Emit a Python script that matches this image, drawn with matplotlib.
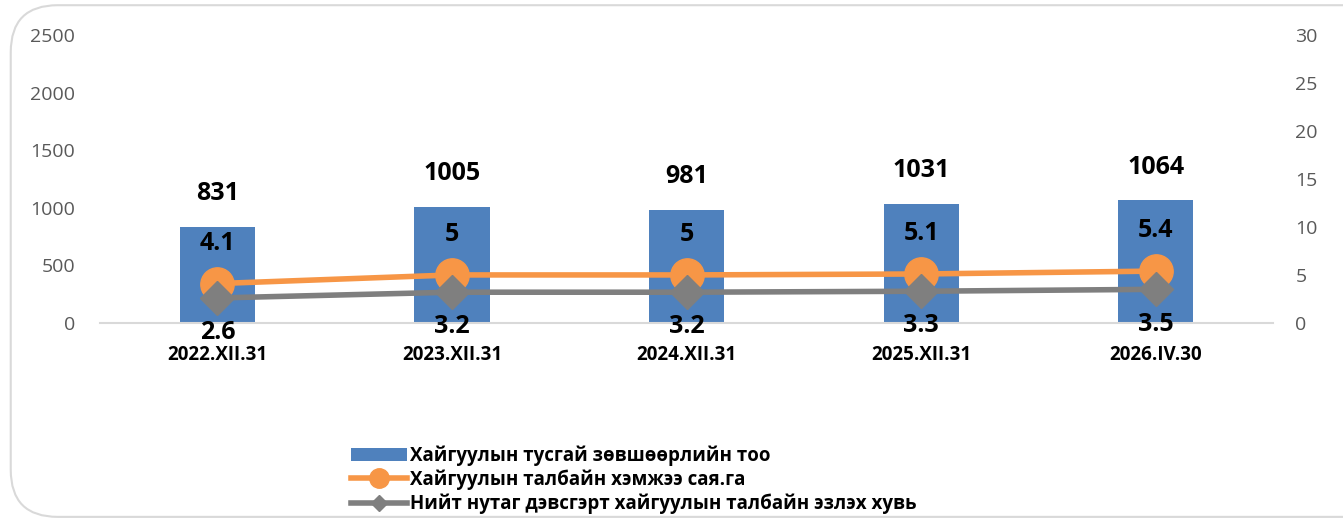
import numpy as np
import matplotlib
matplotlib.use('Agg')
import matplotlib.pyplot as plt
from matplotlib.patches import FancyBboxPatch
from matplotlib.lines import Line2D
from matplotlib.patches import Patch

plt.rcParams['font.family'] = ['Open Sans', 'DejaVu Sans']

# ── Data ────────────────────────────────────────────────────────────────
categories = ['2022.XII.31', '2023.XII.31', '2024.XII.31', '2025.XII.31', '2026.IV.30']
licenses = [831, 1005, 981, 1031, 1064]
area_mha = [4.1, 5, 5, 5.1, 5.4]
share_pct = [2.6, 3.2, 3.2, 3.3, 3.5]
area_labels = ['4.1', '5', '5', '5.1', '5.4']
share_labels = ['2.6', '3.2', '3.2', '3.3', '3.5']

leg_bar = 'Хайгуулын тусгай зөвшөөрлийн тоо'
leg_area = 'Хайгуулын талбайн хэмжээ сая.га'
leg_share = 'Нийт нутаг дэвсгэрт хайгуулын талбайн эзлэх хувь'

BLUE = '#4F81BD'
ORANGE = '#F79646'
GRAY = '#7F7F7F'
TICK = '#595959'

fig = plt.figure(figsize=(13.43, 5.20), dpi=100)

# rounded chart frame (right edge runs off the image)
frame = FancyBboxPatch((0.008, 0.006), 1.05, 0.984, transform=fig.transFigure,
                       boxstyle='round,pad=0,rounding_size=0.035',
                       facecolor='none', edgecolor='#D9D9D9', linewidth=1.5,
                       mutation_aspect=13.43 / 5.2, zorder=-1)
fig.patches.append(frame)

ax = fig.add_axes([0.0745, 0.379, 0.8735, 0.5537])
ax.set_facecolor('none')
x = np.arange(len(categories))

ax.bar(x, licenses, width=0.32, color=BLUE, zorder=2)
ax.set_ylim(0, 2500)
ax.set_xlim(-0.5, len(categories) - 0.5)
ax.set_yticks(np.arange(0, 2501, 500))
ax.tick_params(axis='y', length=0, labelsize=14, labelcolor=TICK, pad=18)
ax.set_xticks(x)
ax.set_xticklabels(categories, fontsize=13.5, fontweight='bold')
ax.tick_params(axis='x', length=0, pad=16)
for s in ['top', 'left', 'right']:
    ax.spines[s].set_visible(False)
ax.spines['bottom'].set_color('#D9D9D9')
ax.spines['bottom'].set_linewidth(1.5)

for xi, v in zip(x, licenses):
    ax.annotate(str(v), (xi, v), xytext=(0, 15), textcoords='offset points',
                ha='center', va='bottom', fontsize=18, fontweight='bold')

ax2 = ax.twinx()
ax2.set_ylim(0, 30)
ax2.set_yticks(np.arange(0, 31, 5))
ax2.tick_params(axis='y', length=0, labelsize=14, labelcolor=TICK, pad=16)
for s in ['top', 'left', 'right', 'bottom']:
    ax2.spines[s].set_visible(False)

ax2.plot(x, area_mha, color=ORANGE, linewidth=4, marker='o', markersize=24,
         zorder=3)
ax2.plot(x, share_pct, color=GRAY, linewidth=4, marker='D', markersize=17,
         zorder=4)

for xi, v, t in zip(x, area_mha, area_labels):
    ax2.annotate(t, (xi, v), xytext=(0, 20), textcoords='offset points',
                 ha='center', va='bottom', fontsize=18, fontweight='bold')
for xi, v, t in zip(x, share_pct, share_labels):
    ax2.annotate(t, (xi, v), xytext=(0, -16), textcoords='offset points',
                 ha='center', va='top', fontsize=18, fontweight='bold')

handles = [Patch(facecolor=BLUE, edgecolor='none'),
           Line2D([], [], color=ORANGE, linewidth=4, marker='o', markersize=14),
           Line2D([], [], color=GRAY, linewidth=4, marker='D', markersize=8)]
fig.legend(handles, [leg_bar, leg_area, leg_share], loc='upper left',
           bbox_to_anchor=(0.2545, 0.162), frameon=False,
           prop={'size': 13.5, 'weight': 'bold'}, handlelength=3.0,
           handletextpad=0.15, labelspacing=0.2, borderpad=0)

fig.savefig('out.png', dpi=100)
